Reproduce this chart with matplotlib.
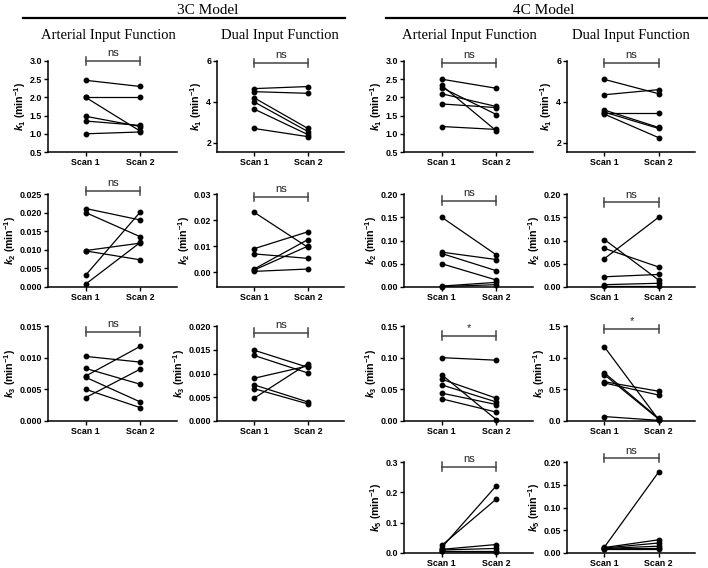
import matplotlib
matplotlib.use('Agg')
import matplotlib.pyplot as plt
from matplotlib.lines import Line2D
from matplotlib.ticker import FormatStrFormatter
from matplotlib import font_manager

names = set(f.name for f in font_manager.fontManager.ttflist)
sans = 'Liberation Sans Narrow' if 'Liberation Sans Narrow' in names else 'Liberation Sans'

plt.rcParams['font.family'] = [sans, 'Liberation Sans']
plt.rcParams['font.weight'] = 'bold'
plt.rcParams['mathtext.fontset'] = 'custom'
plt.rcParams['mathtext.rm'] = sans + ':bold'
plt.rcParams['mathtext.it'] = sans + ':bold:italic'
plt.rcParams['mathtext.bf'] = sans + ':bold'

scans = ['Scan 1', 'Scan 2']
models = ['3C Model', '4C Model']
inputs = ['Arterial Input Function', 'Dual Input Function']

# 3C model, arterial input
c3a_k1_s1 = [2.47, 2.01, 2.00, 1.48, 1.35, 1.00]
c3a_k1_s2 = [2.30, 2.01, 1.07, 1.20, 1.23, 1.05]
c3a_k2_s1 = [0.0211, 0.0200, 0.0098, 0.0097, 0.0032, 0.0008]
c3a_k2_s2 = [0.0180, 0.0135, 0.0118, 0.0073, 0.0202, 0.0120]
c3a_k3_s1 = [0.0102, 0.0083, 0.0071, 0.0069, 0.0050, 0.0037]
c3a_k3_s2 = [0.0093, 0.0058, 0.0118, 0.0030, 0.0021, 0.0082]

# 3C model, dual input
c3d_k1_s1 = [4.65, 4.50, 4.20, 4.00, 3.65, 2.70]
c3d_k1_s2 = [4.75, 4.42, 2.70, 2.55, 2.40, 2.30]
c3d_k2_s1 = [0.0230, 0.0090, 0.0070, 0.0012, 0.0008, 0.0003]
c3d_k2_s2 = [0.0095, 0.0155, 0.0053, 0.0125, 0.0100, 0.0012]
c3d_k3_s1 = [0.0149, 0.0138, 0.0090, 0.0076, 0.0068, 0.0048]
c3d_k3_s2 = [0.0113, 0.0101, 0.0116, 0.0040, 0.0036, 0.0121]

# 4C model, arterial input
c4a_k1_s1 = [2.50, 2.33, 2.27, 2.10, 1.82, 1.20]
c4a_k1_s2 = [2.25, 1.08, 1.53, 1.75, 1.72, 1.12]
c4a_k2_s1 = [0.150, 0.075, 0.072, 0.050, 0.002, 0.001]
c4a_k2_s2 = [0.069, 0.059, 0.035, 0.015, 0.010, 0.005]
c4a_k3_s1 = [0.100, 0.073, 0.066, 0.057, 0.044, 0.035]
c4a_k3_s2 = [0.096, 0.002, 0.036, 0.030, 0.026, 0.014]
c4a_k5_s1 = [0.025, 0.018, 0.012, 0.010, 0.008, 0.005]
c4a_k5_s2 = [0.178, 0.222, 0.028, 0.015, 0.008, 0.003]

# 4C model, dual input
c4d_k1_s1 = [5.10, 4.35, 3.45, 3.60, 3.50, 3.40]
c4d_k1_s2 = [4.40, 4.60, 3.45, 2.75, 2.70, 2.25]
c4d_k2_s1 = [0.102, 0.083, 0.061, 0.022, 0.005, 0.002]
c4d_k2_s2 = [0.015, 0.043, 0.150, 0.027, 0.008, 0.002]
c4d_k3_s1 = [1.17, 0.76, 0.73, 0.62, 0.60, 0.07]
c4d_k3_s2 = [0.02, 0.04, 0.03, 0.47, 0.41, 0.01]
c4d_k5_s1 = [0.013, 0.012, 0.011, 0.010, 0.009, 0.008]
c4d_k5_s2 = [0.178, 0.029, 0.022, 0.015, 0.010, 0.008]

W, H = 708, 568
fig = plt.figure(figsize=(W / 100, H / 100), dpi=100)

col_left = [48, 217, 404, 567]
col_right = [177, 344, 533, 695]
row_top = [61, 194, 326, 462]
row_bot = [152, 287, 421, 553]

# (row, col, scan1, scan2, ylim, yticks, fmt, param, sig, bracket height)
panels = [
    (0, 0, c3a_k1_s1, c3a_k1_s2, (0.5, 3.0), [0.5, 1.0, 1.5, 2.0, 2.5, 3.0], '%.1f', '1', 'ns', 1.0),
    (1, 0, c3a_k2_s1, c3a_k2_s2, (0, 0.025), [0, 0.005, 0.01, 0.015, 0.02, 0.025], '%.3f', '2', 'ns', 1.03),
    (2, 0, c3a_k3_s1, c3a_k3_s2, (0, 0.015), [0, 0.005, 0.01, 0.015], '%.3f', '3', 'ns', 0.94),
    (0, 1, c3d_k1_s1, c3d_k1_s2, (1.55, 6), [2, 4, 6], '%d', '1', 'ns', 0.98),
    (1, 1, c3d_k2_s1, c3d_k2_s2, (-0.0057, 0.03), [0, 0.01, 0.02, 0.03], '%.2f', '2', 'ns', 0.97),
    (2, 1, c3d_k3_s1, c3d_k3_s2, (0, 0.02), [0, 0.005, 0.01, 0.015, 0.02], '%.3f', '3', 'ns', 0.93),
    (0, 2, c4a_k1_s1, c4a_k1_s2, (0.5, 3.0), [0.5, 1.0, 1.5, 2.0, 2.5, 3.0], '%.1f', '1', 'ns', 0.98),
    (1, 2, c4a_k2_s1, c4a_k2_s2, (0, 0.2), [0, 0.05, 0.1, 0.15, 0.2], '%.2f', '2', 'ns', 0.93),
    (2, 2, c4a_k3_s1, c4a_k3_s2, (0, 0.15), [0, 0.05, 0.1, 0.15], '%.2f', '3', '*', 0.9),
    (3, 2, c4a_k5_s1, c4a_k5_s2, (0, 0.3), [0, 0.1, 0.2, 0.3], '%.1f', '5', 'ns', 0.95),
    (0, 3, c4d_k1_s1, c4d_k1_s2, (1.55, 6), [2, 4, 6], '%d', '1', 'ns', 0.98),
    (1, 3, c4d_k2_s1, c4d_k2_s2, (0, 0.2), [0, 0.05, 0.1, 0.15, 0.2], '%.2f', '2', 'ns', 0.91),
    (2, 3, c4d_k3_s1, c4d_k3_s2, (0, 1.5), [0, 0.5, 1.0, 1.5], '%.1f', '3', '*', 0.97),
    (3, 3, c4d_k5_s1, c4d_k5_s2, (0, 0.2), [0, 0.05, 0.1, 0.15, 0.2], '%.2f', '5', 'ns', 1.04),
]

for r, c, s1, s2, ylim, yticks, fmt, k, sig, by in panels:
    x0 = col_left[c] / W
    w = (col_right[c] - col_left[c]) / W
    y0 = 1 - row_bot[r] / H
    h = (row_bot[r] - row_top[r]) / H
    ax = fig.add_axes([x0, y0, w, h])
    for a, b in zip(s1, s2):
        ax.plot([1, 2], [a, b], '-o', color='black', lw=0.9, ms=3.2, clip_on=False, zorder=3)
    ax.set_xlim(0.31, 2.67)
    ax.set_ylim(*ylim)
    ax.set_xticks([1, 2])
    ax.set_xticklabels(scans)
    ax.set_yticks(yticks)
    ax.yaxis.set_major_formatter(FormatStrFormatter(fmt))
    ax.tick_params(labelsize=6.4, length=3, width=1, pad=1.2)
    ax.spines['top'].set_visible(False)
    ax.spines['right'].set_visible(False)
    ax.spines['left'].set_linewidth(1.1)
    ax.spines['bottom'].set_linewidth(1.1)
    ax.set_ylabel(r'$k_%s$ (min$^{-1}$)' % k, fontsize=7.6, fontweight='bold', labelpad=1.5)
    # significance bracket
    tr = ax.get_xaxis_transform()
    ax.plot([1, 2], [by, by], color='#444444', lw=1.1, transform=tr, clip_on=False)
    for xe in [1, 2]:
        ax.plot([xe, xe], [by - 0.045, by + 0.045], color='#444444', lw=1.1, transform=tr, clip_on=False)
    ax.text(1.5, by + 0.03, sig, transform=tr, ha='center', va='bottom',
            fontsize=8, fontweight='normal', family='Liberation Sans', color='#222222')

# headers
fig.text(208 / W, 1 - 10 / H, models[0], ha='center', va='center', family='Liberation Serif',
         fontsize=11, fontweight='normal')
fig.text(544 / W, 1 - 10 / H, models[1], ha='center', va='center', family='Liberation Serif',
         fontsize=11, fontweight='normal')
fig.add_artist(Line2D([23 / W, 345 / W], [1 - 18 / H, 1 - 18 / H], color='black', lw=1.6))
fig.add_artist(Line2D([386 / W, 707 / W], [1 - 18 / H, 1 - 18 / H], color='black', lw=1.6))
for xc, name in zip([108, 280, 469, 631], inputs * 2):
    fig.text(xc / W, 1 - 36 / H, name, ha='center', va='center', family='Liberation Serif',
             fontsize=10.5, fontweight='normal')

fig.savefig('out.png', dpi=100)
